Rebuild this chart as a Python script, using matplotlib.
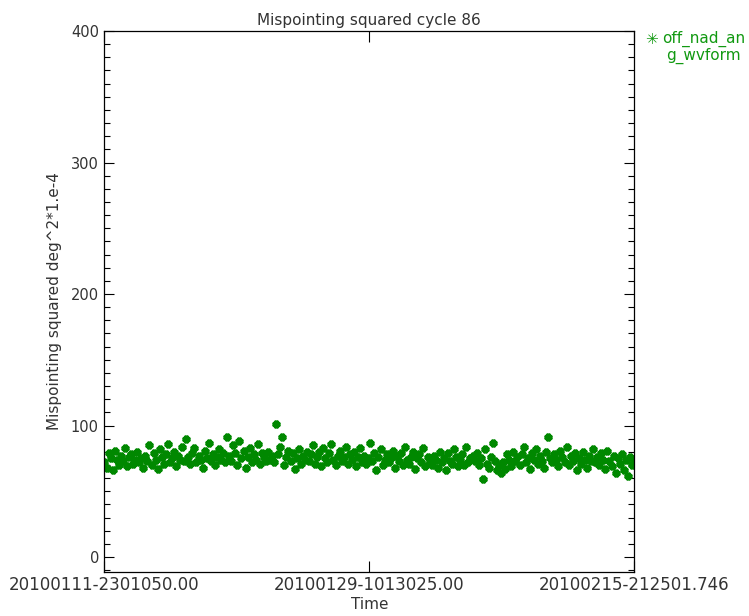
import numpy as np
import matplotlib.pyplot as plt
from matplotlib.ticker import MultipleLocator

# mispointing squared values (deg^2 * 1e-4), left to right
mispointing = [
    72, 68, 79, 75, 66, 81, 74, 70, 77, 73, 83, 69, 76, 78, 71, 74, 80, 72, 75, 68,
    77, 73, 85, 70, 79, 74, 67, 82, 76, 71, 78, 86, 72, 75, 80, 69, 77, 74, 84, 73,
    90, 76, 71, 79, 83, 72, 77, 74, 68, 81, 75, 87, 73, 78, 70, 76, 82, 74, 79, 72,
    91, 77, 73, 85, 79, 70, 88, 75, 81, 68, 76, 83, 72, 78, 74, 86, 71, 79, 76, 73,
    80, 74, 77, 72, 101, 78, 84, 91, 70, 76, 81, 73, 79, 67, 75, 82, 71, 77, 74, 80,
    73, 78, 85, 71, 76, 80, 69, 83, 75, 72, 79, 86, 74, 70, 77, 81, 73, 76, 84, 71,
    78, 74, 80, 69, 76, 83, 72, 77, 71, 75, 87, 73, 79, 66, 76, 82, 70, 74, 78, 72,
    75, 81, 68, 77, 73, 79, 70, 84, 74, 71, 76, 80, 67, 75, 78, 72, 83, 69, 76, 73,
    70, 77, 74, 68, 80, 72, 75, 66, 79, 73, 71, 82, 76, 69, 74, 78, 70, 84, 72, 75,
    77, 73, 79, 70, 75, 59, 82, 71, 68, 76, 87, 73, 66, 70, 64, 72, 67, 78, 74, 69,
    80, 73, 76, 70, 78, 84, 72, 75, 67, 79, 74, 82, 71, 77, 73, 68, 80, 91, 75, 72,
    78, 74, 69, 81, 76, 72, 84, 70, 77, 73, 79, 66, 75, 71, 80, 74, 68, 77, 73, 82,
    72, 76, 70, 79, 74, 67, 81, 73, 69, 77, 64, 75, 71, 78, 66, 74, 62, 76, 70, 73,
]
time_labels = ["20100111-2301050.00", "20100129-1013025.00", "20100215-212501.746"]

plt.rcParams['font.family'] = ['DejaVu Sans']
txt = '#333333'

fig = plt.figure(figsize=(7.49, 6.16), dpi=100)
ax = fig.add_axes([0.1395, 0.0714, 0.707, 0.8782])

x = np.arange(len(mispointing))
ax.plot(x, mispointing, linestyle='none', marker=(8, 2, 0), markersize=5.5,
        markeredgewidth=2.4, color='#008800')

ax.set_xlim(0, len(mispointing) - 1)
ax.set_ylim(-11.4, 400)

ax.set_xticks([0, (len(mispointing) - 1) / 2, len(mispointing) - 1])
ax.set_xticklabels(time_labels, fontsize=12, color=txt)
ax.set_yticks([0, 100, 200, 300, 400])
ax.yaxis.set_minor_locator(MultipleLocator(10))
ax.tick_params(axis='x', direction='in', length=8, width=0.8, top=True, pad=3)
ax.tick_params(axis='y', which='major', direction='in', length=7.5, width=0.8,
               right=True, labelsize=10.5, labelcolor=txt, pad=4)
ax.tick_params(axis='y', which='minor', direction='in', length=4, width=0.8, right=True)
for s in ax.spines.values():
    s.set_linewidth(0.9)

ax.set_title("Mispointing squared cycle 86", fontsize=11, color=txt, pad=4)
ax.set_xlabel("Time", fontsize=11, color=txt, labelpad=2)
ax.set_ylabel("Mispointing squared deg^2*1.e-4", fontsize=11, color=txt, labelpad=6)

# legend drawn as IDL-style text at the right
fig.text(651 / 749, 1 - 39 / 616, "\u2733", fontsize=11, color='#119911',
         ha='center', va='center')
fig.text(662 / 749, 1 - 39 / 616, "off_nad_an", fontsize=11, color='#119911', va='center')
fig.text(666 / 749, 1 - 56 / 616, "g_wvform", fontsize=11, color='#119911', va='center')

fig.savefig("out.png", dpi=100)
